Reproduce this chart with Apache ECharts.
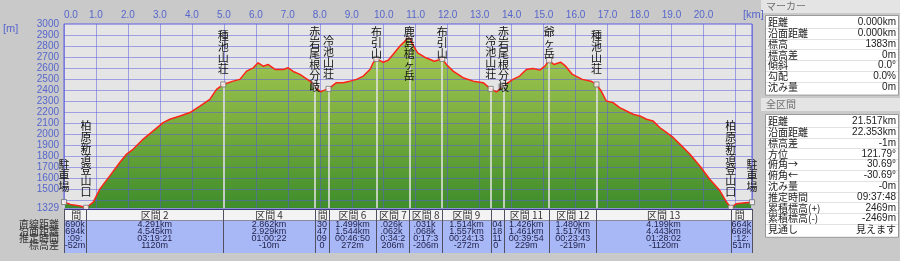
<!DOCTYPE html>
<html><head><meta charset="utf-8">
<script src="https://cdn.jsdelivr.net/npm/echarts@6/dist/echarts.min.js"></script>
<style>html,body{margin:0;padding:0;background:#c9c9c9}#c{width:900px;height:261px}</style>
</head><body><div id="c"></div>
<script>
// ---- profile (distance km, elevation m) ----
const profKm = [0,0.1,0.2,0.35,0.5,0.6,0.69,
0.916,1.125,1.438,1.75,1.96,2.166,2.479,2.79,3.10,3.31,3.63,3.94,4.25,4.56,4.77,4.981,
5.29,5.50,5.71,5.92,6.07,6.23,6.39,6.60,6.86,7.01,7.17,7.38,7.69,7.843,
7.91,8.02,8.13,8.273,
8.52,8.73,8.94,9.15,9.36,9.57,9.67,9.772,
9.98,10.14,10.29,10.50,10.65,10.798,
10.89,11.06,11.32,11.58,11.829,
11.96,12.17,12.48,12.80,13.11,13.343,
13.53,13.747,
14.04,14.25,14.46,14.67,14.88,15.04,15.173,
15.32,15.53,15.69,15.90,16.21,16.48,16.653,
16.80,16.96,17.17,17.38,17.59,17.80,18.01,18.22,18.42,18.63,18.84,19.05,19.26,19.57,19.88,20.19,20.51,20.72,20.852,
21.02,21.23,21.517];
const profElev = [1383,1372,1362,1355,1347,1338,1331,
1383,1503,1623,1744,1819,1864,1955,2030,2105,2135,2165,2196,2255,2316,2406,2451,
2481,2497,2572,2602,2648,2617,2632,2587,2587,2602,2569,2542,2481,2441,
2415,2384,2397,2411,
2467,2467,2481,2497,2527,2587,2648,2683,
2653,2671,2723,2798,2840,2889,
2822,2738,2693,2662,2683,
2632,2572,2512,2481,2467,2411,
2382,2441,
2497,2527,2587,2596,2581,2617,2670,
2632,2653,2617,2542,2497,2481,2451,
2391,2301,2286,2241,2210,2180,2165,2135,2120,2060,2015,1970,1909,1819,1713,1593,1487,1383,1331,
1367,1375,1382];

// ---- waypoints ----
const wpNames = ['駐車場','柏原新道登山口','種池山荘','赤岩尾根分岐','冷池山荘','布引山','鹿島槍ヶ岳','布引山','冷池山荘','赤岩尾根分岐','爺ヶ岳','種池山荘','柏原新道登山口','駐車場'];
const wpKm = [0,0.690,4.981,7.843,8.273,9.772,10.798,11.829,13.343,13.747,15.173,16.653,20.852,21.517];
const wpElev = [1383,1331,2451,2441,2411,2683,2889,2683,2411,2441,2670,2451,1331,1382];

// ---- sections (between consecutive waypoints) ----
const secNo = [1,2,4,5,6,7,8,9,10,11,12,13,14];
const secStraight = ['0.690km','4.291km','2.862km','0.430km','1.499km','1.026km','1.031km','1.514km','0.404km','1.426km','1.480km','4.199km','0.664km'];
const secSurface = ['0.694km','4.545km','2.929km','0.447km','1.544km','1.062km','1.068km','1.557km','0.418km','1.461km','1.517km','4.443km','0.668km'];
const secTime = ['00:09:52','03:19:21','01:00:22','00:09:05','00:46:50','00:34:20','00:17:38','00:24:13','00:11:30','00:39:54','00:23:43','01:28:02','00:12:58'];
const secElevDiff = ['-52m','1120m','-10m','-30m','272m','206m','-206m','-272m','30m','229m','-219m','-1120m','51m'];
const rowLabels = ['直線距離','沿面距離','推定時間','標高差'];

// ---- axis ticks ----
const xLabels = [0,1,2,3,4,5,6,7,8,9,10,11,12,13,14,15,16,17,18,19,20];
const yLabels = [1329,1500,1600,1700,1800,1900,2000,2100,2200,2300,2400,2500,2600,2700,2800,2900,3000];
const yGrid = [1400,1500,1600,1700,1800,1900,2000,2100,2200,2300,2400,2500,2600,2700,2800,2900];

// ---- side panel ----
const markerRows = [['距離','0.000km'],['沿面距離','0.000km'],['標高','1383m'],['標高差','0m'],['傾斜','0.0°'],['勾配','0.0%'],['沈み量','0m']];
const totalRows = [['距離','21.517km'],['沿面距離','22.353km'],['標高差','-1m'],['方位','121.79°'],['俯角→','30.69°'],['俯角←','-30.69°'],['沈み量','-0m'],['推定時間','09:37:48'],['累積標高(+)','2469m'],['累積標高(-)','-2469m'],['見通し','見えます']];

const AXIS_COL = '#5666cc';
const GRID_COL = 'rgba(88,88,224,0.5)';
const CJK = '"Noto Sans CJK JP"';
const NUMF = '"Liberation Sans Narrow","Liberation Sans",sans-serif';

const chart = echarts.init(document.getElementById('c'));
const profData = profKm.map((k,i)=>[k, profElev[i]]);
const wpData = wpKm.map((k,i)=>[k, wpElev[i]]);
const yMin = yLabels[0];

chart.setOption({
  animation:false,
  backgroundColor:'#c9c9c9',
  grid:{left:64,right:148,top:24,bottom:53,show:true,backgroundColor:'#e5e5e5',borderColor:'#5c5ce0',borderWidth:1},
  xAxis:{type:'value',position:'top',min:0,max:wpKm[wpKm.length-1],interval:1,z:3,
    axisLine:{show:false},axisTick:{show:false},
    axisLabel:{customValues:xLabels,formatter:v=>Number(v).toFixed(1),color:AXIS_COL,fontSize:10,fontFamily:'Liberation Sans',margin:4,alignMinLabel:'left'},
    splitLine:{show:true,lineStyle:{color:GRID_COL,width:1}}},
  yAxis:{type:'value',min:yMin,max:3000,z:3,
    axisLine:{show:false},axisTick:{show:false,customValues:yGrid},
    axisLabel:{customValues:yLabels,formatter:v=>String(Math.round(v)),color:AXIS_COL,fontSize:10,fontFamily:'Liberation Sans',margin:5,showMinLabel:true,showMaxLabel:true},
    splitLine:{show:true,lineStyle:{color:GRID_COL,width:1}}},
  series:[
    {type:'line',data:profData,symbol:'none',showSymbol:false,silent:true,z:1,
      lineStyle:{width:0},
      areaStyle:{origin:'start',opacity:1,color:new echarts.graphic.LinearGradient(0,0,0,1,[{offset:0,color:'#aacb55'},{offset:0.5,color:'#7aae3e'},{offset:1,color:'#3e8d2b'}])}},
    {type:'line',data:profData,symbol:'none',showSymbol:false,silent:true,z:6,
      lineStyle:{color:'#ff2418',width:1.5}},
    {type:'scatter',data:wpData,symbol:'rect',symbolSize:5,silent:true,z:8,
      itemStyle:{color:'#ffffff',borderColor:'#707070',borderWidth:1},
      markLine:{silent:true,symbol:'none',z:4,label:{show:false},
        lineStyle:{color:'#e6e6e6',width:1.5,type:'solid'},
        data:wpData.map(d=>[{coord:[d[0],yMin]},{coord:[d[0],d[1]]}])}}
  ]
});

// ---- overlay drawing (positions from chart scales) ----
const px = (k,e)=>chart.convertToPixel({gridIndex:0},[k,e]);
const G = [];
function txt(x,y,text,font,fill,align,va,z){G.push({type:'text',x:x,y:y,z:z||20,silent:true,style:{text:text,font:font,fill:fill,align:align||'left',verticalAlign:va||'middle'}});}
function rect(x,y,w,h,fill,stroke,z){G.push({type:'rect',shape:{x:x,y:y,width:w,height:h},z:z||15,silent:true,style:{fill:fill,stroke:stroke||null,lineWidth:1}});}
function line(x1,y1,x2,y2,stroke,z,w){G.push({type:'line',shape:{x1:x1,y1:y1,x2:x2,y2:y2},z:z||16,silent:true,style:{stroke:stroke,lineWidth:w||1}});}
const mctx = document.createElement('canvas').getContext('2d');
function clipText(str, cx, width, font){
  mctx.font = font;
  const full = mctx.measureText(str).width;
  if (full <= width) return {s:str, x:cx-full/2};
  const left = (full-width)/2;
  let x=0, out='', start=null;
  for (const ch of str){ const w = mctx.measureText(ch).width; if (x>=left-0.8 && x+w<=left+width+0.8){ if(start===null) start=x; out+=ch;} x+=w; }
  return {s:out, x:cx-full/2+(start||0)};
}

// unit labels
txt(3,29,'[m]','11px "Liberation Sans"',AXIS_COL,'left','middle');
txt(743,15,'[km]','11px "Liberation Sans"',AXIS_COL,'left','middle');

// waypoint labels (vertical text)
const LH = 11;
wpNames.forEach((nm,i)=>{
  const p = px(wpKm[i], wpElev[i]);
  const n = nm.length;
  const lastC = p[1]-15.5;
  const firstC = Math.max(31.5, lastC-(n-1)*LH);
  G.push({type:'text',x:p[0],y:firstC-LH/2,z:20,silent:true,style:{text:nm.split('').join('\n'),font:'11px '+CJK,lineHeight:LH,fill:'#111',align:'center',verticalAlign:'top'}});
});

// bottom section table
const gx0 = px(0,yMin)[0], gx1 = px(wpKm[wpKm.length-1],yMin)[0];
const TY0 = 209, TY1 = 220, TY2 = 253;
rect(gx0, TY0, gx1-gx0, TY1-TY0, '#f3f3f3', null, 15);
rect(gx0, TY1, gx1-gx0, TY2-TY1, '#a8b8f7', null, 15);
line(gx0, TY0+0.5, gx1, TY0+0.5, '#3a3a8a', 17);
line(gx0, TY1+0.5, gx1, TY1+0.5, '#8a8aa0', 17);
const rowY = [225, 232, 239, 246];
const cellFontN = '9px '+NUMF;
const cellFontH = '10px '+CJK;
secNo.forEach((no,i)=>{
  const x0 = px(wpKm[i],yMin)[0], x1 = px(wpKm[i+1],yMin)[0];
  const cx = (x0+x1)/2, w = x1-x0-2;
  line(Math.round(x0)+0.5, TY0, Math.round(x0)+0.5, TY2, '#505060', 17);
  const h = clipText('区間 '+no, cx, w, cellFontH);
  if (h.s) txt(h.x, 215, h.s, cellFontH, '#333', 'left', 'middle', 18);
  [secStraight[i], secSurface[i], secTime[i], secElevDiff[i]].forEach((v,r)=>{
    const c = clipText(v, cx, w, cellFontN);
    if (c.s) txt(c.x, rowY[r], c.s, cellFontN, '#23234a', 'left', 'middle', 18);
  });
});
line(Math.round(gx1)+0.5, TY0, Math.round(gx1)+0.5, TY2, '#505060', 17);
rowLabels.forEach((l,r)=>txt(59, rowY[r]-1, l, '10px '+CJK, '#333', 'right', 'middle', 18));

// side panel
const PX0 = 765, PX1 = 898;
function panel(title, ty, rows, by, rh){
  rect(761, ty, 139, 13, '#e4e4e4', null, 15);
  txt(766, ty+6.5, title, '10px '+CJK, '#707070', 'left', 'middle', 18);
  const bh = rows.length*rh+4;
  rect(PX0+0.5, by+0.5, PX1-PX0, bh, '#ffffff', '#9a9a9a', 15);
  rows.forEach((r,k)=>{
    const cy = by+2+rh*k+rh/2;
    if (k>0) line(PX0+1, Math.round(cy-rh/2)+0.5, PX1, Math.round(cy-rh/2)+0.5, '#e2e2e2', 16);
    txt(768, cy, r[0], '10px '+CJK, '#222', 'left', 'middle', 18);
    const vf = /[^\x00-\x7F°]/.test(r[1]) ? '10px '+CJK : '10px "Liberation Sans"';
    txt(896, cy, r[1], vf, '#222', 'right', 'middle', 18);
  });
}
panel('マーカー', 0, markerRows, 15, 10.8);
panel('全区間', 98, totalRows, 114, 10.8);

chart.setOption({graphic:{elements:G}});
</script>
</body></html>
